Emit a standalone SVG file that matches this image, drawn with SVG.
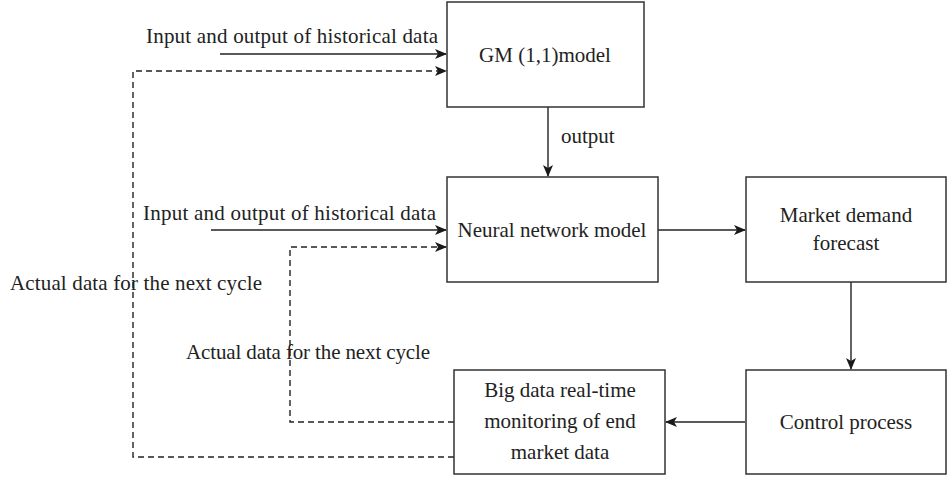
<svg xmlns="http://www.w3.org/2000/svg" width="947" height="477" viewBox="0 0 947 477">
<defs>
<marker id="ah" markerWidth="12" markerHeight="10" refX="11" refY="5" orient="auto" markerUnits="userSpaceOnUse">
<path d="M0,0 L12,5 L0,10 L3,5 Z" fill="#1a1a1a"/>
</marker>
<style>
.box{fill:#fff;stroke:#333;stroke-width:1.5}
.t{font-family:"Liberation Serif",serif;font-size:21px;fill:#222}
.m{text-anchor:middle}
.ln{fill:none;stroke:#222;stroke-width:1.4}
.d{stroke-dasharray:6,4}
</style>
</defs>
<g id="connectors">
<line class="ln" x1="220" y1="54" x2="446" y2="54" marker-end="url(#ah)"/>
<polyline class="ln d" points="454,457 133,457 133,71 446,71" marker-end="url(#ah)"/>
<line class="ln" x1="548" y1="107" x2="548" y2="176" marker-end="url(#ah)"/>
<line class="ln" x1="211" y1="230" x2="446" y2="230" marker-end="url(#ah)"/>
<polyline class="ln d" points="454,422 290,422 290,247 446,247" marker-end="url(#ah)"/>
<line class="ln" x1="658" y1="230" x2="745" y2="230" marker-end="url(#ah)"/>
<line class="ln" x1="851" y1="282" x2="851" y2="369" marker-end="url(#ah)"/>
<line class="ln" x1="745" y1="422" x2="666" y2="422" marker-end="url(#ah)"/>
<text class="t" x="146" y="43" textLength="292">Input and output of historical data</text>
<text class="t" x="143" y="220" textLength="293">Input and output of historical data</text>
<text class="t" x="10" y="290" textLength="252">Actual data for the next cycle</text>
<text class="t" x="186" y="359" textLength="244">Actual data for the next cycle</text>
<text class="t" x="561" y="143">output</text>
</g>
<g id="gm">
<rect class="box" x="447" y="2" width="197" height="105"/>
<text class="t m" x="545" y="62">GM (1,1)model</text>
</g>
<g id="nn">
<rect class="box" x="447" y="177" width="211" height="105"/>
<text class="t m" x="552" y="237">Neural network model</text>
</g>
<g id="market">
<rect class="box" x="746" y="177" width="200" height="105"/>
<text class="t m" x="846" y="222">Market demand</text>
<text class="t m" x="846" y="250">forecast</text>
</g>
<g id="control">
<rect class="box" x="746" y="370" width="200" height="104"/>
<text class="t m" x="846" y="429">Control process</text>
</g>
<g id="bigdata">
<rect class="box" x="454" y="370" width="211" height="104"/>
<text class="t m" x="560" y="397">Big data real-time</text>
<text class="t m" x="560" y="428">monitoring of end</text>
<text class="t m" x="560" y="459">market data</text>
</g>
</svg>
